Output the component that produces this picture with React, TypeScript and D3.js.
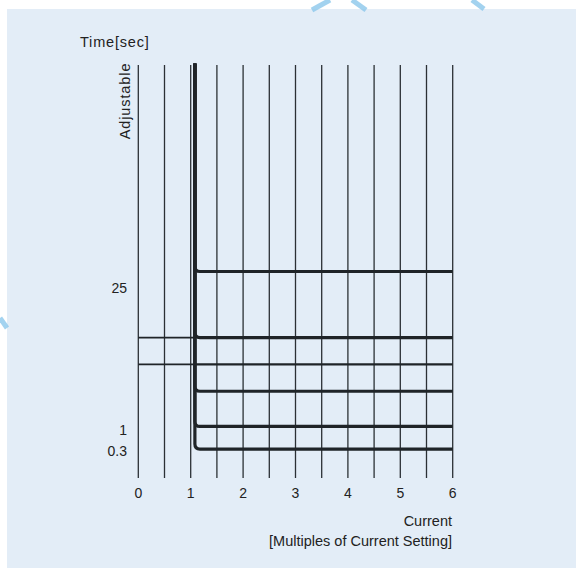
import React from "react";
import * as d3 from "d3";

// ---- data ----
const xTickValues = [0, 1, 2, 3, 4, 5, 6];
const gridValues = [0, 0.5, 1, 1.5, 2, 2.5, 3, 3.5, 4, 4.5, 5, 5.5, 6];
const pickupMultiple = 1.08; // thick vertical (pick-up current)
const curveLevels = [50, 34, 21, 12.5, 7]; // time settings (schematic units)
const straightLevels = [27.5]; // straight line through the whole range
const leftLevels = [34, 27.5]; // thin lines left of pick-up
const yTickLabels = ["25", "1", "0.3"];
const yTickValues = [46, 11.5, 6.5];

const W = 576;
const H = 568;
const FONT = "'Liberation Sans', Arial, Helvetica, sans-serif";
const INK = "#1f2428";

export default function App() {
  const x = d3.scaleLinear().domain([0, 6]).range([138.3, 452.7]);
  const y = d3.scaleLinear().domain([0, 100]).range([478, 65]);
  const r = 5;

  const curvePath = (level: number) => {
    const p = d3.path();
    const x0 = x(pickupMultiple);
    const yl = y(level);
    p.moveTo(x0, y(100) - 1.5);
    p.lineTo(x0, yl - r);
    p.quadraticCurveTo(x0, yl, x0 + r, yl);
    p.lineTo(x(6), yl);
    return p.toString();
  };

  return (
    <svg
      width={W}
      height={H}
      style={{ position: "fixed", left: 0, top: 0, display: "block" }}
      fontFamily={FONT}
    >
      <rect x={0} y={0} width={W} height={H} fill="#ffffff" />
      <rect x={7} y={9} width={W - 7} height={H - 9} fill="#e3edf7" />
      {/* faint watermark fragments */}
      <g stroke="#8cc8ec" strokeWidth={5} fill="none" opacity={0.8}>
        <path d="M312,10 L330,0" />
        <path d="M352,0 L366,10" />
        <path d="M472,0 L484,9" />
        <path d="M0,318 L7,328" />
      </g>

      {/* vertical grid lines */}
      <g stroke="#2b3035" strokeWidth={1.3}>
        {gridValues.map((g) => (
          <line key={g} x1={x(g)} x2={x(g)} y1={y(100)} y2={y(0)} />
        ))}
      </g>

      {/* thin lines left of pick-up */}
      <g stroke={INK} strokeWidth={1.7}>
        {leftLevels.map((l) => (
          <line key={l} x1={x(0)} x2={x(pickupMultiple)} y1={y(l)} y2={y(l)} />
        ))}
      </g>

      {/* straight line */}
      <g stroke={INK} strokeWidth={2.3}>
        {straightLevels.map((l) => (
          <line key={l} x1={x(pickupMultiple)} x2={x(6)} y1={y(l)} y2={y(l)} />
        ))}
      </g>

      {/* curves */}
      <g stroke={INK} strokeWidth={3.2} fill="none">
        {curveLevels.map((l) => (
          <path key={l} d={curvePath(l)} />
        ))}
      </g>

      {/* x tick labels */}
      <g fontSize={14} fill="#222" textAnchor="middle">
        {xTickValues.map((t) => (
          <text key={t} x={x(t)} y={498}>
            {t}
          </text>
        ))}
      </g>

      {/* y tick labels */}
      <g fontSize={14} fill="#222" textAnchor="end">
        {yTickLabels.map((lab, i) => (
          <text key={lab} x={127} y={y(yTickValues[i])} dy="0.35em">
            {lab}
          </text>
        ))}
      </g>

      <text x={80} y={47} fontSize={14.5} fill="#222" letterSpacing={0.8}>
        Time[sec]
      </text>
      <text
        transform={`translate(130,101) rotate(-90)`}
        fontSize={14.5}
        fill="#222"
        textAnchor="middle"
        letterSpacing={0.9}
      >
        Adjustable
      </text>

      <g fontSize={14.5} fill="#222" textAnchor="end">
        <text x={452} y={526}>Current</text>
        <text x={452} y={546}>[Multiples of Current Setting]</text>
      </g>
    </svg>
  );
}
